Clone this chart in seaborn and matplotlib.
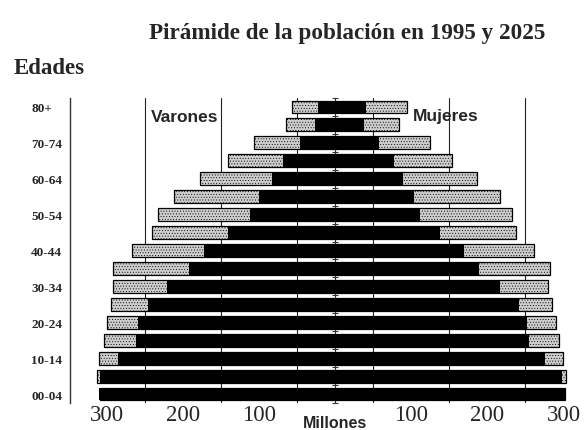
import matplotlib
matplotlib.use("Agg")
import matplotlib.pyplot as plt
import seaborn as sns

# age groups, top of the pyramid first
ages = ['80+', '75-79', '70-74', '65-69', '60-64', '55-59', '50-54', '45-49', '40-44',
        '35-39', '30-34', '25-29', '20-24', '15-19', '10-14', '05-09', '00-04']

# millions
male_1995 = [23, 27, 46, 68, 83, 100, 112, 140, 172, 192, 220, 246, 259, 261, 285, 309, 310]
male_2025 = [56, 65, 106, 140, 177, 211, 233, 241, 266, 292, 292, 294, 299, 304, 310, 312, 308]
female_1995 = [40, 38, 58, 77, 89, 104, 111, 138, 169, 189, 216, 241, 252, 255, 275, 298, 303]
female_2025 = [94, 84, 124, 153, 186, 216, 232, 237, 261, 282, 280, 285, 290, 294, 299, 303, 302]

x_ticks = [-300, -200, -100, 100, 200, 300]
x_labels = ['300', '200', '100', '100', '200', '300']
grid_at = [-250, -150, -50, 50, 150, 250]

sns.set_style("white")
plt.rcParams['hatch.linewidth'] = 0.35

fig = plt.figure(figsize=(5.84, 4.31), dpi=100)
ax = fig.add_axes([70 / 584, 27 / 431, 505 / 584, 305 / 431])

for g in grid_at:
    ax.axvline(g, color='#222222', lw=0.8, zorder=0)

neg = lambda v: [-a for a in v]
grey = dict(color='#cdcdcd', edgecolor='black', linewidth=0.9, hatch='......',
            width=0.72, saturation=1, orient='h', order=ages, ax=ax, zorder=2)
sns.barplot(x=neg(male_2025), y=ages, **grey)
sns.barplot(x=female_2025, y=ages, **grey)
black = dict(color='black', linewidth=0, width=0.72, saturation=1, orient='h',
             order=ages, ax=ax, zorder=3)
sns.barplot(x=neg(male_1995), y=ages, **black)
sns.barplot(x=female_1995, y=ages, **black)

ax.set_xlim(-348, 315)
ax.set_ylim(16.5, -0.5)
ax.set_xlabel('')
ax.set_ylabel('')

ax.set_xticks(x_ticks)
ax.set_xticklabels(x_labels, family='Liberation Serif', fontsize=16.5)
ax.tick_params(axis='x', length=0, pad=1)

for s in ['top', 'bottom']:
    ax.spines[s].set_visible(False)
ax.spines['left'].set_color('#333333')
ax.spines['left'].set_linewidth(1.0)
# center axis with small marks between the age groups
ax.spines['right'].set_position(('data', 0))
ax.spines['right'].set_color('#333333')
ax.spines['right'].set_linewidth(0.8)
ax.spines['right'].set_zorder(1)
ax.set_yticks([i + 0.5 for i in range(-1, len(ages))], minor=True)
ax.tick_params(axis='y', which='minor', right=True, left=False, direction='inout',
               length=4, width=0.8, color='#333333')

# y labels, every other group, left aligned away from the axis line
ax.set_yticks(range(0, len(ages), 2))
ax.tick_params(axis='y', which='major', length=0, pad=28)
ax.set_yticklabels(ages[::2], family='Liberation Serif', weight='bold', fontsize=9.5,
                   ha='left')

ax.text(-153, 0.55, 'Varones', ha='right', va='center', family='Liberation Sans',
        weight='bold', fontsize=12.5, zorder=5)
ax.text(102, 0.5, 'Mujeres', ha='left', va='center', family='Liberation Sans',
        weight='bold', fontsize=12.5, zorder=5)

fig.text(0.595, 1 - 33 / 431, 'Pirámide de la población en 1995 y 2025', ha='center',
         va='center', family='Liberation Serif', weight='bold', fontsize=16.7)
fig.text(14 / 584, 1 - 68 / 431, 'Edades', ha='left', va='center',
         family='Liberation Serif', weight='bold', fontsize=16.5)
fig.text(335 / 584, 1 - 424 / 431, 'Millones', ha='center', va='center',
         family='Liberation Sans', weight='bold', fontsize=11.5)

fig.savefig('out.png', dpi=100)
